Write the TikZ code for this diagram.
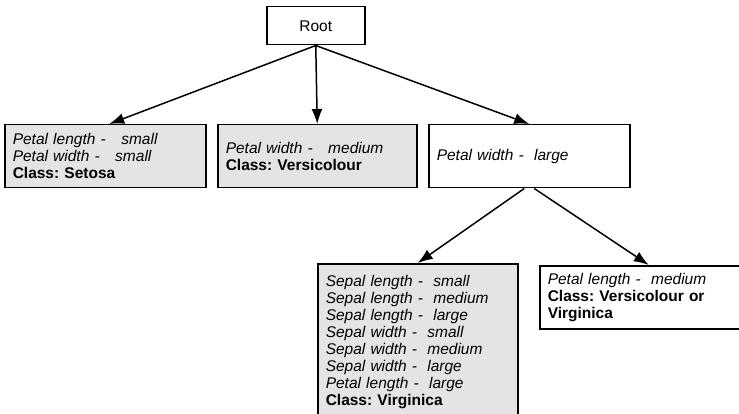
\documentclass[tikz,border=0pt]{standalone}
\usepackage{fontspec}
\setmainfont{Liberation Sans}
\usetikzlibrary{
	positioning,
	arrows.meta
}
\definecolor{LeafGray}{RGB}{228,228,230}

\tikzset{
	treebox/.style={
		draw=black,
		line width=1.5pt,
		anchor=north west,
		align=left,
		inner xsep=8pt,
		font=\fontsize{15.5}{17}\selectfont\frenchspacing
	},
	leafbox/.style={
		treebox,
		fill=LeafGray
	},
	treearrow/.style={
		-{Latex[length=15pt,width=11pt]},
		line width=1.5pt
	}
}

\begin{document}
\begin{tikzpicture}[x=1pt,y=-1pt]
				
				\useasboundingbox (0,0) rectangle (739,414);
				
				\node[
				treebox,
				align=center,
				minimum width=98pt,
				minimum height=38pt
				] (Root) at (266,6) {Root};
				
				\node[
				leafbox,
				text width=185pt,
				minimum height=63pt
				] (Setosa) at (4,124) {\textit{Petal length -~~~small}\\\textit{Petal width -~~~small}\\\textbf{Class: Setosa}};
				
				\node[
				leafbox,
				text width=183pt,
				minimum height=63pt
				] (Versi) at (217,124) {\textit{Petal width -~~~medium}\\\textbf{Class: Versicolour}};
				
				\node[
				treebox,
				text width=185pt,
				minimum height=63pt
				] (Large) at (428,124) {\textit{Petal width -~~large}};
				
				\node[
				leafbox,
				text width=184pt,
				inner ysep=12pt
				] (Virgin) at (317,263) {\textit{Sepal length -~~small}\\\textit{Sepal length -~~medium}\\\textit{Sepal length -~~large}\\\textit{Sepal width -~~small}\\\textit{Sepal width -~~medium}\\\textit{Sepal width -~~large}\\\textit{Petal length -~~large}\\\textbf{Class: Virginica}};
				
				\node[
				treebox,
				text width=190pt,
				minimum height=63pt
				] (Either) at (539,265) {\textit{Petal length -~~medium}\\\textbf{Class: Versicolour or}\\\textbf{Virginica}};
				
				\draw[treearrow] (Root.south) -- ([xshift=4pt]Setosa.north);
				
				\draw[treearrow] (Root.south) -- (Versi.north);
				
				\draw[treearrow] (Root.south) -- (Large.north);
				
				\draw[treearrow] ([xshift=-5pt]Large.south) -- (Virgin.north);
				
				\draw[treearrow] ([xshift=5pt]Large.south) -- ([xshift=6pt]Either.north);
				
			\end{tikzpicture}
\end{document}
